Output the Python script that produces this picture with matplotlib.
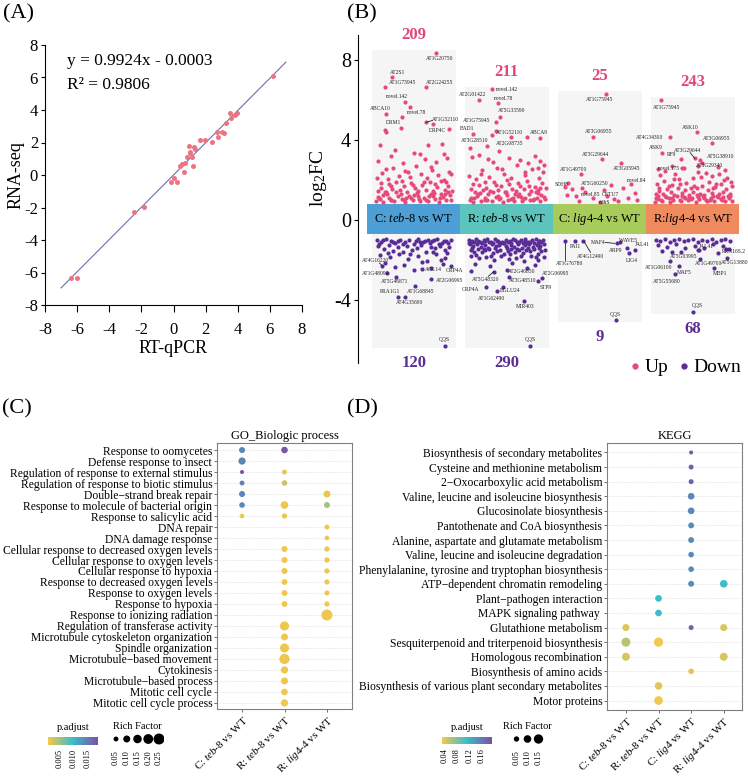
import numpy as np
import matplotlib
matplotlib.use('Agg')
import matplotlib.pyplot as plt
from matplotlib.colors import LinearSegmentedColormap, Normalize
from matplotlib.cm import ScalarMappable
from matplotlib.lines import Line2D

plt.rcParams['font.family'] = ['Liberation Serif', 'DejaVu Serif']
plt.rcParams['mathtext.fontset'] = 'custom'
plt.rcParams['mathtext.rm'] = 'Liberation Serif'
plt.rcParams['mathtext.it'] = 'Liberation Serif:italic'
plt.rcParams['mathtext.bf'] = 'Liberation Serif:bold'
plt.rcParams['axes.unicode_minus'] = False

# ---------------- (A) validation data ----------------
qpcr = [-6.38, -5.98, -2.45, -1.83, -0.16, 0.0, 0.21, 0.42, 0.52, 0.63, 0.73, 0.84, 0.94, 1.0, 1.04,
        1.15, 1.21, 1.25, 1.36, 1.63, 1.98, 2.42, 2.71, 2.77, 3.02, 3.12, 3.27, 3.5, 3.6, 3.85, 3.95, 6.2]
rnaseq = [-6.32, -6.32, -2.26, -1.95, -0.41, -0.16, -0.41, 0.56, 0.66, 0.16, 0.72, 1.13, 1.8, 1.44, 1.33,
          1.13, 0.57, 1.74, 1.58, 2.15, 2.15, 2.05, 2.67, 2.36, 2.67, 2.6, 3.22, 3.8, 3.5, 3.7, 3.8, 6.09]
slope, icept, r2 = 0.9924, -0.0003, 0.9806

# ---------------- (B) DEG scatter ----------------
comparisons = [r'C: $\mathit{teb}$-$\mathit{8}$ vs WT', r'R: $\mathit{teb}$-$\mathit{8}$ vs WT',
               r'C: $\mathit{lig4}$-$\mathit{4}$ vs WT', r'R:$\mathit{lig4}$-$\mathit{4}$ vs WT']
up_counts = [209, 211, 25, 243]
down_counts = [120, 290, 9, 68]

# unlabelled points, (offset inside group, log2FC)
g1_up = [(-0.41,0.95),(-0.37,1.12),(-0.33,0.90),(-0.29,1.30),(-0.25,1.02),(-0.21,0.93),(-0.17,1.18),(-0.13,1.05),
         (-0.09,0.91),(-0.05,1.22),(-0.01,1.00),(0.03,1.35),(0.07,0.94),(0.11,1.10),(0.15,0.97),(0.19,1.28),
         (0.23,1.04),(0.27,0.92),(0.31,1.15),(0.35,1.01),(0.39,1.24),
         (-0.39,1.45),(-0.35,1.62),(-0.31,1.40),(-0.27,1.78),(-0.23,1.55),(-0.19,1.92),(-0.15,1.48),(-0.11,1.68),
         (-0.07,1.42),(-0.03,1.85),(0.01,1.58),(0.05,1.44),(0.09,1.73),(0.13,1.50),(0.17,1.88),(0.21,1.46),
         (0.25,1.65),(0.29,1.95),(0.33,1.52),(0.37,1.70),(0.41,1.47),
         (-0.40,2.10),(-0.34,2.35),(-0.28,2.05),(-0.22,2.60),(-0.16,2.20),(-0.10,2.45),(-0.04,2.15),(0.02,2.70),
         (0.08,2.30),(0.14,2.08),(0.20,2.50),(0.26,2.25),(0.32,2.02),(0.38,2.40),
         (-0.38,2.95),(-0.25,3.20),(-0.12,2.85),(0.00,3.35),(0.12,3.05),(0.24,2.90),(0.36,3.10),(-0.36,3.75),
         (-0.20,3.50),(0.07,3.30),(0.15,3.75),(0.30,3.80),(0.32,3.30),(-0.31,4.50),(-0.14,4.60),(-0.30,4.42),
         (0.38,4.55),
         (-0.36,1.05),(-0.24,0.98),(-0.08,1.12),(0.06,1.03),(0.16,1.20),(0.28,1.08),(0.40,0.99),(-0.30,1.38),
         (-0.14,1.32),(0.00,1.26),(0.22,1.36),(0.34,1.31),
         (-0.39,1.15),(-0.33,1.25),(-0.27,1.10),(-0.19,1.40),(-0.11,1.00),(-0.03,1.12),(0.05,1.22),(0.13,0.98),
         (0.21,1.18),(0.29,1.28),(0.37,1.40),(-0.35,1.85),(-0.25,1.70),(-0.13,1.95),(-0.01,1.75),(0.11,1.90),
         (0.23,1.80),(0.35,1.92),(-0.30,2.55),(-0.06,2.40),(0.18,2.65),(0.40,2.30)]
g2_up = [(-0.40,1.02),(-0.36,0.92),(-0.32,1.20),(-0.28,0.97),(-0.24,1.10),(-0.20,1.32),(-0.16,0.94),(-0.12,1.15),
         (-0.08,1.03),(-0.04,0.90),(0.00,1.25),(0.04,1.06),(0.08,0.96),(0.12,1.18),(0.16,0.93),(0.20,1.08),
         (0.24,1.28),(0.28,0.99),(0.32,1.12),(0.36,0.95),(0.40,1.16),
         (-0.38,1.55),(-0.34,1.40),(-0.30,1.75),(-0.26,1.48),(-0.22,1.62),(-0.18,1.43),(-0.14,1.90),(-0.10,1.52),
         (-0.06,1.68),(-0.02,1.41),(0.02,1.80),(0.06,1.57),(0.10,1.46),(0.14,1.72),(0.18,1.53),(0.22,1.95),
         (0.26,1.44),(0.30,1.66),(0.34,1.50),(0.38,1.85),(0.42,1.60),
         (-0.41,2.20),(-0.33,2.05),(-0.27,2.48),(-0.19,2.15),(-0.11,2.62),(-0.03,2.30),(0.05,2.08),(0.11,2.75),
         (0.19,2.25),(0.27,2.55),(0.35,2.12),(0.39,2.40),(-0.15,2.90),(0.23,2.85),
         (-0.37,3.15),(-0.20,3.05),(0.02,3.10),(0.30,3.20),(0.36,2.95),(-0.08,3.45),(0.14,3.00),(-0.30,3.25),
         (0.40,2.75),(0.22,4.17),(-0.12,4.47),(-0.40,3.60),
         (-0.35,1.08),(-0.21,1.00),(-0.09,1.22),(0.07,1.12),(0.17,1.04),(0.29,1.06),(0.37,1.26),(-0.29,1.35),
         (-0.01,1.38),(0.13,1.30),(0.33,1.33),
         (-0.39,1.12),(-0.31,1.28),(-0.23,1.02),(-0.15,1.40),(-0.07,1.10),(0.01,1.00),(0.09,1.30),(0.15,1.15),
         (0.25,1.02),(0.31,1.42),(0.41,1.05),(-0.36,1.80),(-0.24,1.92),(-0.12,1.75),(0.00,1.98),(0.12,1.86),
         (0.24,1.70),(0.36,1.62),(-0.28,2.30),(-0.05,2.55),(0.20,2.40),(0.33,2.60)]
g3_up = [(-0.38,1.65),(-0.26,1.20),(-0.22,0.95),(-0.07,1.12),(0.08,1.20),(0.15,1.05),(0.25,1.62),(0.30,1.10),
         (0.38,1.35),(0.40,0.98),(-0.30,1.55),(0.12,1.75),(0.20,0.93),(-0.35,1.25)]
g4_up = [(-0.41,0.92),(-0.37,1.05),(-0.33,0.96),(-0.29,1.15),(-0.25,0.90),(-0.21,1.02),(-0.17,1.20),(-0.13,0.94),
         (-0.09,1.08),(-0.05,0.98),(-0.01,1.12),(0.03,0.91),(0.07,1.04),(0.11,1.18),(0.15,0.95),(0.19,1.09),
         (0.23,0.93),(0.27,1.14),(0.31,1.00),(0.35,0.97),(0.39,1.10),(0.42,0.94),
         (-0.40,1.30),(-0.36,1.45),(-0.32,1.28),(-0.28,1.55),(-0.24,1.38),(-0.20,1.25),(-0.16,1.62),(-0.12,1.33),
         (-0.08,1.48),(-0.04,1.27),(0.00,1.40),(0.04,1.58),(0.08,1.32),(0.12,1.26),(0.16,1.50),(0.20,1.36),
         (0.24,1.66),(0.28,1.29),(0.32,1.42),(0.36,1.53),(0.40,1.31),
         (-0.39,1.80),(-0.31,1.95),(-0.23,1.75),(-0.15,2.05),(-0.07,1.85),(0.01,1.72),(0.09,2.15),(0.17,1.90),
         (0.25,1.78),(0.33,2.00),(0.41,1.88),(-0.35,2.25),(-0.19,2.30),(0.05,2.40),(0.21,2.20),(0.37,2.10),
         (-0.38,2.55),(-0.22,2.70),(-0.10,2.60),(0.10,2.85),(0.27,2.65),(0.34,2.50),(-0.30,2.45),(0.14,2.35),
         (-0.34,1.00),(-0.26,1.08),(-0.14,0.99),(-0.02,1.06),(0.06,1.16),(0.18,0.98),(0.30,1.07),(0.38,1.20),
         (-0.38,1.20),(-0.10,1.16),(0.14,1.02),(0.26,1.22),
         (-0.40,1.12),(-0.30,1.22),(-0.22,1.12),(-0.12,1.20),(-0.04,1.14),(0.04,1.24),(0.12,1.10),(0.22,1.20),
         (0.32,1.14),(0.40,1.22),(-0.36,1.62),(-0.26,1.70),(-0.14,1.80),(-0.02,1.60),(0.10,1.70),(0.22,1.62),
         (0.30,1.82),(0.42,1.68),(-0.20,2.05),(0.00,2.10),(0.28,2.30)]
g1_down = [(-0.40,-1.00),(-0.35,-1.10),(-0.30,-0.95),(-0.25,-1.05),(-0.20,-1.15),(-0.15,-0.98),(-0.10,-1.08),
           (-0.05,-1.02),(0.00,-1.20),(0.05,-0.96),(0.10,-1.12),(0.15,-1.00),(0.20,-1.06),(0.25,-0.97),
           (0.30,-1.14),(0.35,-1.03),(0.40,-0.99),
           (-0.38,-1.30),(-0.32,-1.45),(-0.27,-1.25),(-0.22,-1.55),(-0.17,-1.35),(-0.12,-1.62),(-0.07,-1.28),
           (-0.02,-1.48),(0.03,-1.38),(0.08,-1.26),(0.13,-1.58),(0.18,-1.33),(0.23,-1.42),(0.28,-1.29),
           (0.33,-1.52),(0.38,-1.36),
           (-0.36,-1.75),(-0.26,-1.85),(-0.16,-1.70),(-0.06,-1.95),(0.04,-1.80),(0.14,-2.05),(0.24,-1.72),
           (0.34,-1.90),(-0.31,-2.15),(-0.11,-2.25),(0.09,-2.10),(0.29,-1.98),
           (-0.20,-2.35),(0.00,-2.50),(0.18,-2.40),(0.31,-2.20),(0.40,-2.30),(0.36,-1.65),
           (-0.37,-1.18),(-0.22,-1.12),(-0.12,-1.18),(0.07,-1.10),(0.17,-1.16),(0.27,-1.20),(0.37,-1.15),
           (-0.33,-1.02),(-0.17,-1.05),(0.02,-1.03),(0.12,-1.06),(0.22,-1.02),(0.32,-1.06),(-0.28,-1.65),
           (-0.04,-1.70),(0.21,-1.60)]
g2_down = [(-0.41,-0.98),(-0.37,-1.05),(-0.33,-0.95),(-0.29,-1.10),(-0.25,-1.00),(-0.21,-0.97),(-0.17,-1.08),
           (-0.13,-0.96),(-0.09,-1.03),(-0.05,-1.12),(-0.01,-0.99),(0.03,-1.06),(0.07,-0.95),(0.11,-1.09),
           (0.15,-1.01),(0.19,-0.97),(0.23,-1.11),(0.27,-1.02),(0.31,-0.96),(0.35,-1.07),(0.39,-1.00),
           (-0.40,-1.22),(-0.36,-1.30),(-0.32,-1.18),(-0.28,-1.35),(-0.24,-1.25),(-0.20,-1.40),(-0.16,-1.20),
           (-0.12,-1.32),(-0.08,-1.27),(-0.04,-1.17),(0.00,-1.38),(0.04,-1.23),(0.08,-1.33),(0.12,-1.19),
           (0.16,-1.42),(0.20,-1.26),(0.24,-1.21),(0.28,-1.36),(0.32,-1.24),(0.36,-1.31),(0.40,-1.20),
           (-0.39,-1.50),(-0.35,-1.58),(-0.31,-1.45),(-0.27,-1.62),(-0.23,-1.52),(-0.19,-1.47),(-0.15,-1.66),
           (-0.11,-1.55),(-0.07,-1.48),(-0.03,-1.70),(0.01,-1.53),(0.05,-1.46),(0.09,-1.60),(0.13,-1.51),
           (0.17,-1.64),(0.21,-1.49),(0.25,-1.57),(0.29,-1.45),(0.33,-1.68),(0.37,-1.54),(0.41,-1.50),
           (-0.38,-1.80),(-0.30,-1.92),(-0.22,-1.85),(-0.14,-2.00),(-0.06,-1.78),(0.02,-1.95),(0.10,-1.88),
           (0.18,-2.05),(0.26,-1.82),(0.34,-1.98),(0.40,-1.86),(-0.34,-2.20),(-0.18,-2.30),(0.06,-2.15),
           (0.22,-2.40),(0.30,-2.25),
           (-0.35,-1.12),(-0.27,-1.15),(-0.15,-1.13),(-0.07,-1.16),(0.05,-1.14),(0.13,-1.10),(0.21,-1.16),
           (0.33,-1.14),(-0.41,-1.14),(-0.19,-1.12),(-0.03,-1.16),(0.17,-1.13),(0.29,-1.15),(0.37,-1.12),
           (-0.39,-1.08),(-0.31,-1.03),(-0.23,-1.06),(-0.11,-1.04),(0.01,-1.08),(0.09,-1.02),(0.19,-1.05),
           (0.25,-1.08),(0.35,-1.03),(-0.37,-1.40),(-0.25,-1.45),(-0.13,-1.42),(-0.01,-1.28),(0.11,-1.45),
           (0.23,-1.40),(0.35,-1.42),(-0.33,-1.75),(-0.17,-1.80),(0.03,-1.72),(0.15,-1.78),(0.31,-1.85)]
g4_down = [(-0.40,-0.98),(-0.35,-1.05),(-0.30,-0.96),(-0.25,-1.10),(-0.20,-1.00),(-0.15,-0.97),(-0.10,-1.06),
           (-0.05,-1.02),(0.00,-0.95),(0.05,-1.08),(0.10,-0.99),(0.15,-1.04),(0.20,-0.96),(0.25,-1.12),
           (0.30,-1.00),(0.35,-0.97),(0.40,-1.07),
           (-0.38,-1.25),(-0.28,-1.35),(-0.18,-1.20),(-0.08,-1.42),(0.02,-1.28),(0.12,-1.38),(0.22,-1.22),
           (0.32,-1.30),(0.39,-1.45),(-0.33,-1.55),(-0.13,-1.60),(0.07,-1.50),(0.27,-1.65)]
clouds_up = [g1_up, g2_up, g3_up, g4_up]
clouds_down = [g1_down, g2_down, [], g4_down]

# labelled genes: (name, x, log2FC)
up_genes = [('AT1G20750',1.24,8.37),('AT2S1',0.77,7.13),('AT1G75945',0.69,6.63),('AT2G24255',1.13,6.63),
            ('novel.142',0.90,5.92),('ABCA10',0.70,5.30),('novel.78',0.96,5.67),('DRM1',0.87,5.17),
            ('AT1G52110',1.13,4.88),('DRP4C',1.21,4.78),
            ('novel.142',1.84,6.53),('AT2G01422',1.70,6.00),('novel.78',1.91,5.83),('AT5G33590',1.93,5.17),
            ('AT1G75945',1.88,4.88),('BAD1',1.64,4.28),('AT3G28510',1.79,3.70),('AT1G52110',1.84,4.25),
            ('AT2G08735',2.05,4.17),('ABCA9',2.36,4.12),
            ('AT1G75945',3.07,6.30),('AT3G06955',2.93,4.17),('AT3G29644',3.02,3.05),('AT1G49700',2.80,2.28),
            ('AT3G05945',3.23,2.83),('AT5G60250',2.81,1.58),('SDH8',2.66,1.87),('novel.84',3.33,1.78),
            ('novel.85',2.84,1.42),('GSTU7',3.04,1.48),('ndhS',3.00,0.92),
            ('AT1G75945',3.66,6.00),('ASK10',4.04,4.38),('AT4G34300',3.75,4.13),('AT3G06955',4.21,3.83),
            ('ASK9',3.67,3.37),('AT3G29644',4.02,3.08),('RF9',3.87,3.03),('AT5G38910',4.08,3.00),
            ('novel.175',3.88,2.58),('AT3G29340',4.06,2.72)]
up_text_pos = [(1.28,8.05),(0.83,7.38),(0.88,6.90),(1.28,6.90),(0.82,6.15),(0.64,5.57),(1.03,5.37),(0.78,4.88),
               (1.34,5.02),(1.25,4.47),
               (2.00,6.53),(1.63,6.25),(1.97,6.08),(2.05,5.45),(1.68,5.00),(1.57,4.58),(1.65,3.97),(2.03,4.38),
               (2.03,3.83),(2.35,4.37),
               (3.00,6.03),(2.99,4.42),(2.95,3.30),(2.72,2.53),(3.29,2.57),(2.95,1.82),(2.59,1.78),(3.40,2.00),
               (2.90,1.28),(3.11,1.30),(3.05,0.87),
               (3.72,5.63),(3.97,4.63),(3.54,4.13),(4.26,4.08),(3.60,3.62),(3.94,3.50),(3.77,3.28),(4.30,3.17),
               (3.74,2.58),(4.18,2.72)]
down_genes = [('AT4G16220',0.66,-2.30),('AT1G48090',0.71,-2.63),('AT5G46871',0.81,-2.87),('AGL14',1.09,-2.47),
              ('AT2G06995',1.19,-2.97),('AT1G68845',1.01,-3.30),('PRA1G1',0.83,-3.83),('AT4G35690',0.91,-3.87),
              ('QQS',1.33,-6.30),
              ('ORP4A',1.62,-2.53),('AT5G48320',1.86,-2.58),('AT2G46850',2.00,-2.50),('AT3G48510',2.02,-2.87),
              ('BGLU24',1.96,-3.37),('ORP4A',1.78,-3.37),('AT1G62490',1.89,-3.55),('MIR403',2.18,-4.05),
              ('AT2G06995',2.38,-2.88),('STP9',2.34,-3.05),('QQS',2.25,-6.28),
              ('AT1G76780',2.62,-1.05),('PAI1',2.73,-1.05),('AT4G12490',2.82,-1.03),('MAF4',3.18,-1.17),
              ('WAVE5',3.22,-1.12),('ARP9',3.29,-1.42),('JAL41',3.38,-1.50),('LIG4',3.31,-1.67),
              ('QQS',3.17,-5.00),
              ('JAL41',4.05,-1.50),('AT5G03995',3.78,-1.60),('AT1G49700',4.08,-1.95),('RRN16S.2',4.36,-1.45),
              ('AT5G13880',4.37,-1.92),('AT1G06100',3.75,-2.05),('MAF5',3.85,-2.30),('MBP1',4.23,-2.38),
              ('AT5G55680',3.81,-2.70),('QQS',4.00,-4.58)]
down_text_pos = [(0.59,-2.05),(0.59,-2.67),(0.79,-3.08),(1.21,-2.47),(1.38,-3.00),(1.07,-3.58),(0.74,-3.58),
                 (0.96,-4.13),(1.33,-5.97),
                 (1.44,-2.50),(1.77,-2.97),(2.16,-2.58),(2.17,-3.03),(2.04,-3.50),(1.61,-3.47),(1.84,-3.92),
                 (2.20,-4.33),(2.52,-2.67),(2.42,-3.38),(2.25,-5.97),
                 (2.68,-2.17),(2.74,-1.32),(2.90,-1.80),(2.98,-1.12),(3.30,-1.00),(3.17,-1.50),(3.46,-1.25),
                 (3.34,-2.00),(3.17,-4.70),
                 (4.14,-1.35),(3.90,-1.83),(4.17,-2.17),(4.44,-1.58),(4.45,-2.13),(3.63,-2.37),(3.91,-2.63),
                 (4.29,-2.67),(3.72,-3.08),(4.05,-4.30)]
# leader lines drawn next to a few labels
leader_lines = [((1.13,1.20),(4.88,4.98)), ((1.86,1.80),(-2.58,-2.82)), ((2.62,2.62),(-1.15,-1.98)),
                ((2.83,2.90),(-1.08,-1.62)), ((3.06,3.16),(-1.12,-1.17)), ((3.97,4.02),(3.37,3.08)),
                ((0.63,0.66),(-2.15,-2.28))]

# ---------------- (C) GO enrichment ----------------
go_terms = ['Response to oomycetes', 'Defense response to insect', 'Regulation of response to external stimulus',
            'Regulation of response to biotic stimulus', 'Double\u2212strand break repair',
            'Response to molecule of bacterial origin', 'Response to salicylic acid', 'DNA repair',
            'DNA damage response', 'Cellular response to decreased oxygen levels',
            'Cellular response to oxygen levels', 'Cellular response to hypoxia',
            'Response to decreased oxygen levels', 'Response to oxygen levels', 'Response to hypoxia',
            'Response to ionizing radiation', 'Regulation of transferase activity',
            'Microtubule cytoskeleton organization', 'Spindle organization', 'Microtubule\u2212based movement',
            'Cytokinesis', 'Microtubule\u2212based process', 'Mitotic cell cycle', 'Mitotic cell cycle process']
go_samples = [r'C: $\mathit{teb}$-$\mathit{8}$ vs WT', r'R: $\mathit{teb}$-$\mathit{8}$ vs WT',
              r'R: $\mathit{lig4}$-$\mathit{4}$ vs WT']
go_term_idx = [0, 0, 1, 2, 2, 3, 3, 4, 4, 5, 5, 5, 6, 6, 7, 8, 9, 9, 10, 10, 11, 11, 12, 12, 13, 13, 14, 14,
               15, 16, 17, 18, 19, 20, 21, 22, 23]
go_sample_idx = [0, 1, 0, 0, 1, 0, 1, 0, 2, 0, 1, 2, 0, 1, 2, 2, 1, 2, 1, 2, 1, 2, 1, 2, 1, 2, 1, 2,
                 2, 1, 1, 1, 1, 1, 1, 1, 1]
go_rich = [0.075, 0.09, 0.11, 0.035, 0.05, 0.05, 0.065, 0.075, 0.10, 0.065, 0.12, 0.075, 0.045, 0.058,
           0.05, 0.045, 0.075, 0.058, 0.075, 0.058, 0.075, 0.058, 0.07, 0.055, 0.07, 0.055, 0.07, 0.055,
           0.25, 0.17, 0.10, 0.17, 0.22, 0.11, 0.10, 0.09, 0.11]
go_padj = [0.0141, 0.0178, 0.0141, 0.0178, 0.0012, 0.0145, 0.0028, 0.0141, 0.0012, 0.0141, 0.0010, 0.0045,
           0.0013, 0.0012, 0.0010, 0.0010, 0.0010, 0.0010, 0.0010, 0.0010, 0.0010, 0.0010, 0.0010, 0.0010,
           0.0010, 0.0010, 0.0010, 0.0010, 0.0010, 0.0010, 0.0010, 0.0010, 0.0010, 0.0010, 0.0010, 0.0010,
           0.0010]

# ---------------- (D) KEGG enrichment ----------------
kegg_terms = ['Biosynthesis of secondary metabolites', 'Cysteine and methionine metabolism',
              '2\u2212Oxocarboxylic acid metabolism', 'Valine, leucine and isoleucine biosynthesis',
              'Glucosinolate biosynthesis', 'Pantothenate and CoA biosynthesis',
              'Alanine, aspartate and glutamate metabolism', 'Valine, leucine and isoleucine degradation',
              'Phenylalanine, tyrosine and tryptophan biosynthesis', 'ATP\u2212dependent chromatin remodeling',
              'Plant\u2212pathogen interaction', 'MAPK signaling pathway ', 'Glutathione metabolism',
              'Sesquiterpenoid and triterpenoid biosynthesis', 'Homologous recombination',
              'Biosynthesis of amino acids', 'Biosynthesis of various plant secondary metabolites',
              'Motor proteins']
kegg_samples = [r'C: $\mathit{teb}$-$\mathit{8}$ vs WT', r'R: $\mathit{teb}$-$\mathit{8}$ vs WT',
                r'C: $\mathit{lig4}$ vs WT', r'R: $\mathit{lig4}$-$\mathit{4}$ vs WT']
kegg_term_idx = [0, 1, 2, 3, 4, 5, 6, 7, 8, 9, 9, 10, 11, 12, 12, 12, 13, 13, 14, 14, 15, 16, 17]
kegg_sample_idx = [2, 2, 2, 2, 2, 2, 2, 2, 2, 2, 3, 1, 1, 0, 2, 3, 0, 1, 0, 3, 2, 1, 1]
kegg_rich = [0.028, 0.043, 0.043, 0.077, 0.077, 0.06, 0.06, 0.055, 0.055, 0.06, 0.10, 0.077, 0.077,
             0.085, 0.043, 0.085, 0.14, 0.145, 0.11, 0.11, 0.055, 0.10, 0.13]
kegg_padj = [0.188, 0.182, 0.182, 0.152, 0.152, 0.150, 0.150, 0.150, 0.150, 0.150, 0.112, 0.112, 0.112,
             0.042, 0.182, 0.042, 0.058, 0.033, 0.045, 0.045, 0.040, 0.040, 0.033]

UP_C, DOWN_C = '#e8497c', '#5a2d96'
TILE_C = ['#4d9fd6', '#5cc3bd', '#a7cc5c', '#f08b5f']
padj_cmap = LinearSegmentedColormap.from_list('padj', ['#f4c84a', '#3cbcc8', '#7c4fa6'])

W, H = 748, 778
fig = plt.figure(figsize=(W / 100, H / 100), dpi=100)


def px_axes(l, t, r, b):
    return fig.add_axes([l / W, 1 - b / H, (r - l) / W, (b - t) / H])


# ======== (A) ========
axA = px_axes(45, 45, 302, 305)
axA.scatter(qpcr, rnaseq, s=13, color='#ea7582', linewidths=0, zorder=3)
xl = np.array([-7.0, 7.0])
axA.plot(xl, slope * xl + icept, color='#6d6db4', lw=0.8)
axA.set_xlim(-8, 8)
axA.set_ylim(-8, 8)
axA.set_xticks(range(-8, 9, 2))
axA.set_yticks(range(-8, 9, 2))
axA.tick_params(labelsize=12, direction='out', width=0.8)
axA.tick_params(axis='x', length=5, pad=7)
axA.tick_params(axis='y', length=3, pad=2)
for s in ['top', 'right']:
    axA.spines[s].set_visible(False)
axA.set_xlabel('RT-qPCR', fontsize=13, labelpad=2)
axA.set_ylabel('RNA-seq', fontsize=13, labelpad=0)
axA.text(-6.63, 7.0, 'y = %.4fx - %.4f' % (slope, abs(icept)), fontsize=12.5, va='center')
axA.text(-6.63, 5.55, 'R\u00b2 = %.4f' % r2, fontsize=12.5, va='center')

# ======== (B) ========
axB = px_axes(358, 26, 745, 372)
axB.set_xlim(0.4, 4.56)
axB.set_ylim(-7.6, 9.7)
pos = np.arange(1, 5)

up_x, up_y, dn_x, dn_y = [], [], [], []
for i in range(4):
    up_x += [pos[i] + d for d, v in clouds_up[i]]
    up_y += [v for d, v in clouds_up[i]]
    dn_x += [pos[i] + d for d, v in clouds_down[i]]
    dn_y += [v for d, v in clouds_down[i]]
up_x += [g[1] for g in up_genes]
up_y += [g[2] for g in up_genes]
dn_x += [g[1] for g in down_genes]
dn_y += [g[2] for g in down_genes]
up_x, up_y, dn_x, dn_y = map(np.array, (up_x, up_y, dn_x, dn_y))

top = [up_y[(up_x > p - 0.5) & (up_x < p + 0.5)].max() for p in pos]
bot = [dn_y[(dn_x > p - 0.5) & (dn_x < p + 0.5)].min() for p in pos]
top, bot = np.array(top), np.array(bot)
axB.bar(pos, (top + 0.13) - (bot - 0.1), bottom=bot - 0.1, width=0.9, color='#f5f5f5', zorder=0)
axB.scatter(up_x, up_y, s=9, color=UP_C, linewidths=0, zorder=3)
axB.scatter(dn_x, dn_y, s=9, color=DOWN_C, linewidths=0, zorder=3)
axB.bar(pos, 1.5, bottom=-0.7, width=1.0, color=TILE_C, zorder=2)
for i in range(4):
    axB.text(pos[i], 0.05, comparisons[i], ha='center', va='center', fontsize=9, zorder=4)
    axB.text(pos[i], top[i] + 0.88, str(up_counts[i]), ha='center', va='center', fontsize=12,
             fontweight='bold', color='#e2457a')
    axB.text(pos[i], bot[i] - 0.85, str(down_counts[i]), ha='center', va='center', fontsize=12,
             fontweight='bold', color='#5b2d92')
for (name, x, y), (tx, ty) in zip(up_genes + down_genes, up_text_pos + down_text_pos):
    axB.text(tx, ty, name, fontsize=4, ha='center', va='center', color='#222222', zorder=5)
for lx, ly in leader_lines:
    axB.plot(lx, ly, color='#222222', lw=0.6, zorder=4)

for s in ['top', 'right', 'bottom']:
    axB.spines[s].set_visible(False)
axB.spines['left'].set_bounds(-7.15, 9.25)
axB.set_xticks([])
axB.set_yticks([-4, 0, 4, 8])
axB.tick_params(axis='y', labelsize=14.5, length=3, width=0.8, pad=2)
axB.set_ylabel(r'log$_2$FC', fontsize=14)
axB.yaxis.set_label_coords(-0.075, 0.56)
handles = [Line2D([], [], marker='o', ls='', color=UP_C, markersize=3.5, label='Up'),
           Line2D([], [], marker='o', ls='', color=DOWN_C, markersize=3.5, label='Down')]
axB.legend(handles=handles, loc='lower right', bbox_to_anchor=(1.01, -0.035), ncol=2, frameon=False,
           fontsize=14, handletextpad=0.1, columnspacing=0.4, handlelength=0.8, borderaxespad=0)


# ======== (C) & (D) dot plots ========
def dot_panel(ax, terms, samples, ti, si, rich, padj, norm, k, title):
    n = len(terms)
    ax.scatter(si, [n - 1 - t for t in ti], s=[k * r for r in rich], c=padj, cmap=padj_cmap, norm=norm,
               linewidths=0, zorder=3)
    ax.set_yticks(range(n))
    ax.set_yticklabels(terms[::-1], fontsize=8.4)
    ax.set_xticks(range(len(samples)))
    ax.set_xticklabels(samples, rotation=45, ha='right', rotation_mode='anchor', fontsize=8)
    ax.grid(axis='y', color='#d0d0d0', lw=0.5, ls=':', zorder=0)
    ax.tick_params(length=2, width=0.6, color='#555555', pad=1.5)
    for s in ax.spines.values():
        s.set_color('#808080')
        s.set_linewidth(0.8)
    ax.set_title(title, fontsize=9, pad=3)


def legends(cb_rect, ticks, fmt, norm, size_rect, size_vals, k):
    cax = px_axes(*cb_rect)
    cb = fig.colorbar(ScalarMappable(norm=norm, cmap=padj_cmap), cax=cax, orientation='horizontal')
    cb.set_ticks(ticks)
    cb.set_ticklabels([fmt % t for t in ticks])
    cb.outline.set_visible(False)
    cax.tick_params(labelsize=6, length=0, pad=3, labelrotation=90)
    cax.set_title('p.adjust', fontsize=7.5, pad=5)
    sax = px_axes(*size_rect)
    sax.scatter(range(len(size_vals)), [0] * len(size_vals), s=[k * v for v in size_vals], color='black',
                linewidths=0)
    sax.set_xlim(-0.5, len(size_vals) - 0.5)
    sax.set_ylim(-1, 1)
    sax.set_xticks(range(len(size_vals)))
    sax.set_xticklabels(['%.2f' % v for v in size_vals], rotation=90, fontsize=6)
    sax.set_yticks([])
    sax.tick_params(length=0, pad=3)
    for s in sax.spines.values():
        s.set_visible(False)
    sax.patch.set_alpha(0)
    sax.set_title('Rich Factor', fontsize=7.5, pad=2)


axC = px_axes(217, 443, 352, 709)
normC = Normalize(0.0007, 0.0186)
dot_panel(axC, go_terms, go_samples, go_term_idx, go_sample_idx, go_rich, go_padj, normC, 250,
          'GO_Biologic process')
axC.set_xlim(-0.59, 2.59)
axC.set_ylim(-0.55, 23.64)
legends((48, 737, 98, 745), [0.005, 0.010, 0.015], '%.3f', normC,
        (110.6, 732, 164.4, 746), [0.05, 0.10, 0.15, 0.20, 0.25], 250)

axD = px_axes(607, 443, 742, 710)
normD = Normalize(0.031, 0.195)
dot_panel(axD, kegg_terms, kegg_samples, kegg_term_idx, kegg_sample_idx, kegg_rich, kegg_padj, normD, 300,
          'KEGG')
axD.set_xlim(-0.58, 3.56)
axD.set_ylim(-0.65, 17.65)
legends((442, 737, 492, 744), [0.04, 0.08, 0.12, 0.16], '%.2f', normD,
        (511, 732, 544, 746), [0.05, 0.10, 0.15], 300)

# panel letters
for lab, x, y in [('(A)', 3, 14), ('(B)', 347, 14), ('(C)', 2, 409), ('(D)', 347, 409)]:
    fig.text(x / W, 1 - y / H, lab, fontsize=16, va='center', ha='left')

fig.savefig('out.png', dpi=100)
